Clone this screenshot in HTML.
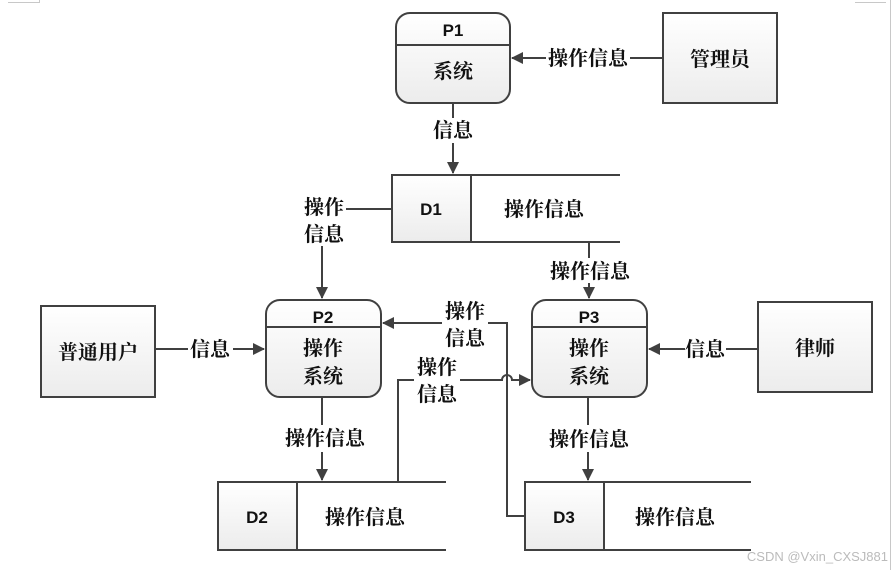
<!DOCTYPE html>
<html><head><meta charset="utf-8"><style>
html,body{margin:0;padding:0;background:#fff;width:892px;height:570px;overflow:hidden}
svg text{font-family:"Liberation Sans",sans-serif;font-weight:bold;fill:#111}
svg text.c{font-family:"Liberation Serif","Noto Serif CJK SC",serif;font-weight:bold;font-size:20px}
</style></head><body>
<svg width="892" height="570" viewBox="0 0 892 570" xmlns="http://www.w3.org/2000/svg">
<defs>
<linearGradient id="g" x1="0" y1="0" x2="0" y2="1"><stop offset="0" stop-color="#ffffff"/><stop offset="1" stop-color="#ececec"/></linearGradient>
<marker id="a" markerWidth="12" markerHeight="12" refX="11" refY="6" orient="auto" markerUnits="userSpaceOnUse"><path d="M0,0 L12,6 L0,12 z" fill="#404040"/></marker>
</defs>
<g stroke="#c8c8c8" fill="none" stroke-width="1"><path d="M8,2.5 H39.5 V0"/><path d="M855,2.5 H886"/><path d="M890.5,0 V570"/></g>
<g stroke="#404040" stroke-width="2" fill="url(#g)">
<rect x="396" y="13" width="114" height="90" rx="14"/>
<rect x="663" y="13" width="114" height="90"/>
<rect x="266" y="300" width="115" height="97" rx="14"/>
<rect x="532" y="300" width="115" height="97" rx="14"/>
<rect x="41" y="306" width="114" height="91"/>
<rect x="758" y="302" width="114" height="90"/>
<rect x="392" y="175" width="79" height="67"/>
<rect x="218" y="482" width="79" height="68"/>
<rect x="525" y="482" width="79" height="68"/>
</g>
<g stroke="#404040" stroke-width="2" fill="none">
<path d="M396,45 H510"/><path d="M266,327 H381"/><path d="M532,327 H647"/>
<path d="M471,175 H620 M471,242 H620"/>
<path d="M297,482 H446 M297,550 H446"/>
<path d="M604,482 H751 M604,550 H751"/>
<path d="M663,58 H630 M546,58 H512" marker-end="url(#a)"/>
<path d="M453,103 V118 M453,143 V173" marker-end="url(#a)"/>
<path d="M392,209 H346"/><path d="M322,246 V298" marker-end="url(#a)"/>
<path d="M589,242 V258 M589,283 V298" marker-end="url(#a)"/>
<path d="M155,349 H188 M233,349 H264" marker-end="url(#a)"/>
<path d="M758,349 H726 M685,349 H649" marker-end="url(#a)"/>
<path d="M322,397 V425 M322,452 V480" marker-end="url(#a)"/>
<path d="M588,397 V425 M588,452 V480" marker-end="url(#a)"/>
<path d="M525,516 H507 V323 H488 M442,323 H383" marker-end="url(#a)"/>
<path d="M398,482 V380 H414 M460,380 H502 A5,5 0 0 1 512,380 H530" marker-end="url(#a)"/>
</g>
<g font-size="17" text-anchor="middle">
<text x="453" y="36">P1</text><text class="c" x="453" y="78">系统</text>
<text class="c" x="720" y="66">管理员</text>
<text class="c" x="588" y="65">操作信息</text>
<text class="c" x="453" y="137">信息</text>
<text x="431" y="215">D1</text><text class="c" x="544" y="216">操作信息</text>
<text class="c" x="324" y="214">操作</text><text class="c" x="324" y="241">信息</text>
<text class="c" x="590" y="278">操作信息</text>
<text x="323" y="323">P2</text><text class="c" x="323" y="355">操作</text><text class="c" x="323" y="383">系统</text>
<text x="589" y="323">P3</text><text class="c" x="589" y="355">操作</text><text class="c" x="589" y="383">系统</text>
<text class="c" x="98" y="359">普通用户</text>
<text class="c" x="815" y="355">律师</text>
<text class="c" x="210" y="356">信息</text><text class="c" x="705" y="356">信息</text>
<text class="c" x="465" y="318">操作</text><text class="c" x="465" y="345">信息</text>
<text class="c" x="437" y="374">操作</text><text class="c" x="437" y="401">信息</text>
<text class="c" x="325" y="445">操作信息</text><text class="c" x="589" y="446">操作信息</text>
<text x="257" y="523">D2</text><text class="c" x="365" y="524">操作信息</text>
<text x="564" y="523">D3</text><text class="c" x="675" y="524">操作信息</text>
</g>
<text x="888" y="561" text-anchor="end" font-size="13" style="font-weight:normal;fill:#bbb">CSDN @Vxin_CXSJ881</text>
</svg>
</body></html>
